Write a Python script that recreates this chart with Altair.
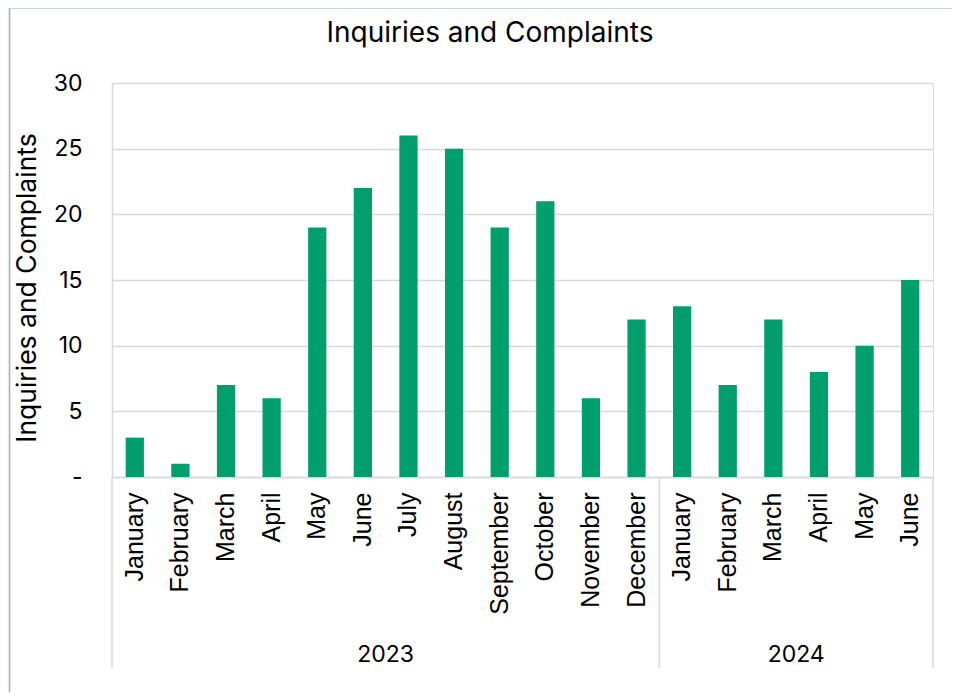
import altair as alt
import pandas as pd

months = ["January", "February", "March", "April", "May", "June", "July",
          "August", "September", "October", "November", "December",
          "January", "February", "March", "April", "May", "June"]
month_years = ["2023"] * 12 + ["2024"] * 6
values = [3, 1, 7, 6, 19, 22, 26, 25, 19, 21, 6, 12, 13, 7, 12, 8, 10, 15]

year_labels = ["2023", "2024"]
year_starts = [0, 12]
year_ends = [12, 18]

FONT = "Inter"
LABEL_FONT = "Liberation Sans"
BAR = "#009F6B"
GRID = "#d9d9d9"
W, H = 821, 394
RIGHT_PAD = 19

df = pd.DataFrame({
    "key": [f"{y}|{m}" for y, m in zip(month_years, months)],
    "month": months,
    "year": month_years,
    "value": values,
})

years_df = pd.DataFrame({
    "year": year_labels,
    "start": year_starts,
    "end": year_ends,
})
years_df["mid"] = (years_df["start"] + years_df["end"]) / 2
seps = pd.DataFrame({"pos": sorted(set(year_starts + year_ends))})

bars = alt.Chart(df).mark_bar(color=BAR).encode(
    x=alt.X("key:N", sort=None, title=None,
            scale=alt.Scale(paddingInner=0.6, paddingOuter=0.3),
            axis=alt.Axis(labelExpr="split(datum.value, '|')[1]",
                          labelAngle=270, labelAlign="right", labelBaseline="middle",
                          labelFont=LABEL_FONT, labelFontSize=25, labelColor="#000000",
                          labelPadding=15, ticks=False, domainColor=GRID,
                          domainWidth=1.5, grid=False, labelOverlap=False)),
    y=alt.Y("value:Q", title=None,
            scale=alt.Scale(domain=[0, 30], nice=False),
            axis=alt.Axis(values=[0, 5, 10, 15, 20, 25, 30],
                          labelExpr="datum.value == 0 ? '-\u00a0\u00a0' : datum.label",
                          labelFont=FONT, labelFontSize=23, labelColor="#000000",
                          labelPadding=30, ticks=False, domain=True,
                          domainColor=GRID, domainWidth=1.5,
                          gridColor=GRID, gridWidth=1.5)),
)

sep_rules = alt.Chart(seps).mark_rule(color=GRID, strokeWidth=1.5).encode(
    x=alt.X("pos:Q", scale=alt.Scale(domain=[0, 18], nice=False), axis=None),
    y=alt.value(H),
    y2=alt.value(H + 191),
)

year_text = alt.Chart(years_df).mark_text(
    font=FONT, fontSize=23, color="#000000", baseline="middle", align="center"
).encode(
    x=alt.X("mid:Q", scale=alt.Scale(domain=[0, 18], nice=False), axis=None),
    y=alt.value(H + 178),
    text="year:N",
)

one = pd.DataFrame({"t": ["Inquiries and Complaints"]})
title = alt.Chart(one).mark_text(
    font=FONT, fontSize=28, color="#000000", align="center", baseline="middle"
).encode(x=alt.value(378), y=alt.value(-49), text="t:N")

ytitle = alt.Chart(one).mark_text(
    font=FONT, fontSize=26.5, color="#000000", align="center", baseline="middle", angle=270
).encode(x=alt.value(-84), y=alt.value(205), text="t:N")

left_border = alt.Chart(one).mark_rule(color="#9db4a4", strokeWidth=1.5).encode(
    x=alt.value(-102.5), y=alt.value(-75), y2=alt.value(H + 215)
)
top_border = alt.Chart(one).mark_rule(color="#c9d6cc", strokeWidth=1).encode(
    x=alt.value(-102.5), x2=alt.value(W + RIGHT_PAD), y=alt.value(-74.5)
)

chart = alt.layer(bars, sep_rules, year_text, title, ytitle, left_border, top_border).resolve_scale(
    x="independent"
).properties(
    width=W, height=H,
    autosize=alt.AutoSizeParams(type="none"),
    padding={"left": 104, "top": 75, "right": RIGHT_PAD, "bottom": 215},
).configure_view(stroke=None).configure(background="#ffffff")

chart.save("out.html", embed_options={"renderer": "svg", "actions": False})
